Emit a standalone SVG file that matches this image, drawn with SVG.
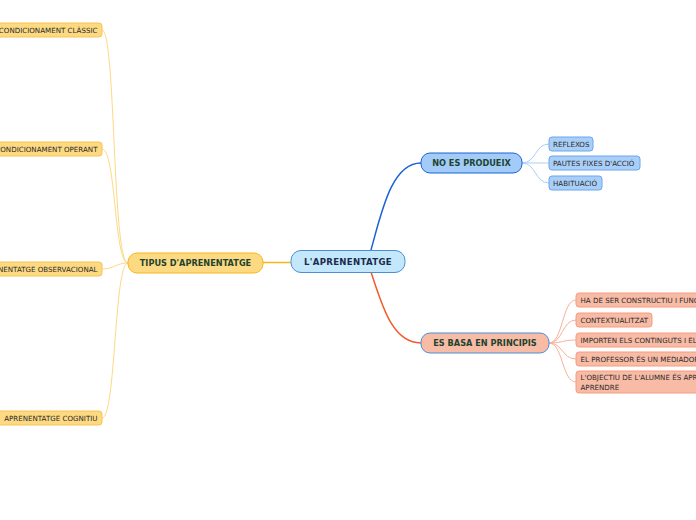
<svg xmlns="http://www.w3.org/2000/svg" width="696" height="520" viewBox="0 0 696 520">
<style>
text{font-family:"DejaVu Sans","Liberation Sans",sans-serif;}
.leaf{font-size:7.1px;fill:#2a2a2a;}
.le{font-size:7.1px;fill:#2a2a2a;text-anchor:end;}
.main{font-size:8.2px;font-weight:bold;fill:#1d4430;}
.root{font-size:8.6px;font-weight:bold;fill:#1b2c4e;letter-spacing:0.3px;}
.yl{fill:#fdd982;stroke:#f6c453;stroke-width:1;}
.bl{fill:#a9cff8;stroke:#6aa6ee;stroke-width:1;}
.sl{fill:#f8bba6;stroke:#f59c80;stroke-width:1;}
.cy{fill:none;stroke:#fdd985;stroke-width:1;}
.cb{fill:none;stroke:#a9cff8;stroke-width:1;}
.cs{fill:none;stroke:#f8b19a;stroke-width:1;}
</style>
<rect width="696" height="520" fill="#ffffff"/>
<g id="connectors">
<path d="M263 262.5 L291 262.5" fill="none" stroke="#f5b71c" stroke-width="1.5"/>
<path d="M371 250 C382 210,392 163,421 163" fill="none" stroke="#1a63d6" stroke-width="1.5"/>
<path d="M371 272 C382 305,392 343,421 343" fill="none" stroke="#f45a2a" stroke-width="1.5"/>
<path class="cy" d="M128 263 C112 263,116 30,102 30"/>
<path class="cy" d="M128 263 C114 263,116 149,102 149"/>
<path class="cy" d="M128 263 C116 263,114 269,102 269"/>
<path class="cy" d="M128 263 C114 263,116 418,102 418"/>
<path class="cb" d="M522 163 C536 163,535 144,549 144"/>
<path class="cb" d="M522 163 L549 163"/>
<path class="cb" d="M522 163 C536 163,535 183,549 183"/>
<path class="cs" d="M549 343 C563 343,562 300,576 300"/>
<path class="cs" d="M549 343 C563 343,562 320,576 320"/>
<path class="cs" d="M549 343 C563 343,562 340,576 340"/>
<path class="cs" d="M549 343 C563 343,562 359,576 359"/>
<path class="cs" d="M549 343 C563 343,562 382,576 382"/>
</g>
<g id="root">
<rect x="291" y="250.5" width="114" height="22" rx="10" fill="#c4e8fb" stroke="#4a8fd6" stroke-width="1"/>
<text class="root" x="348" y="264.7" text-anchor="middle">L'APRENENTATGE</text>
</g>
<g id="tipus">
<rect x="128" y="253" width="135" height="20" rx="9" fill="#fdd982" stroke="#f5b71c" stroke-width="1"/>
<text class="main" x="195.5" y="266.2" text-anchor="middle">TIPUS D'APRENENTATGE</text>
</g>
<g id="noes">
<rect x="421" y="153" width="101" height="20" rx="9" fill="#a3cbf8" stroke="#1a63d6" stroke-width="1"/>
<text class="main" x="471.5" y="166.2" text-anchor="middle">NO ES PRODUEIX</text>
</g>
<g id="esbasa">
<rect x="421" y="333" width="128" height="20" rx="9" fill="#f8bba6" stroke="#4a8fd6" stroke-width="1"/>
<text class="main" x="485" y="346.2" text-anchor="middle">ES BASA EN PRINCIPIS</text>
</g>
<g id="l1"><rect class="yl" x="-12" y="23" width="114" height="14" rx="3"/><text class="le" x="97.5" y="32.5">CONDICIONAMENT CLÀSSIC</text></g>
<g id="l2"><rect class="yl" x="-12" y="142" width="114" height="14" rx="3"/><text class="le" x="97.5" y="151.5">CONDICIONAMENT OPERANT</text></g>
<g id="l3"><rect class="yl" x="-40" y="262" width="142" height="14" rx="3"/><text class="le" x="97.5" y="271.5">APRENENTATGE OBSERVACIONAL</text></g>
<g id="l4"><rect class="yl" x="-4" y="411" width="106" height="14" rx="3"/><text class="le" x="97.5" y="420.5">APRENENTATGE COGNITIU</text></g>
<g id="b1"><rect class="bl" x="549" y="137" width="44" height="14" rx="3"/><text class="leaf" x="553" y="146.5">REFLEXOS</text></g>
<g id="b2"><rect class="bl" x="549" y="156" width="91" height="14" rx="3"/><text class="leaf" x="553" y="165.5">PAUTES FIXES D'ACCIÓ</text></g>
<g id="b3"><rect class="bl" x="549" y="176" width="53" height="14" rx="3"/><text class="leaf" x="553" y="185.5">HABITUACIÓ</text></g>
<g id="s1"><rect class="sl" x="576" y="293" width="170" height="14" rx="3"/><text class="leaf" x="580.5" y="302.5">HA DE SER CONSTRUCTIU I FUNCIONAL</text></g>
<g id="s2"><rect class="sl" x="576" y="313" width="76" height="14" rx="3"/><text class="leaf" x="580.5" y="322.5">CONTEXTUALITZAT</text></g>
<g id="s3"><rect class="sl" x="576" y="333" width="190" height="14" rx="3"/><text class="leaf" x="580.5" y="342.5">IMPORTEN ELS CONTINGUTS I ELS PROCESSOS</text></g>
<g id="s4"><rect class="sl" x="576" y="352" width="150" height="14" rx="3"/><text class="leaf" x="580.5" y="361.5">EL PROFESSOR ÉS UN MEDIADOR</text></g>
<g id="s5"><rect class="sl" x="576" y="371" width="170" height="22" rx="3"/><text class="leaf" x="580.5" y="380">L'OBJECTIU DE L'ALUMNE ÉS APRENDRE A</text><text class="leaf" x="580.5" y="389.5">APRENDRE</text></g>
</svg>
